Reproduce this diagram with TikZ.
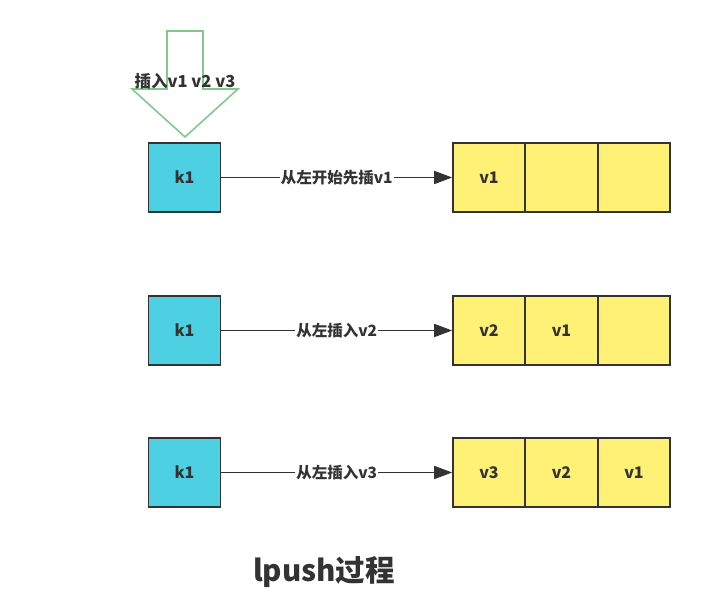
\documentclass[tikz,border=0pt]{standalone}
\usepackage{fontspec}
\setmainfont{Noto Sans CJK SC}
\usetikzlibrary{arrows.meta}

\definecolor{keycyan}{RGB}{77,208,225}
\definecolor{valyellow}{RGB}{255,241,118}
\definecolor{edgegray}{RGB}{51,51,51}
\definecolor{arrowgreen}{RGB}{130,200,140}

\tikzset{
    keybox/.style={draw=edgegray, line width=1.6pt, fill=keycyan,
        minimum width=72pt, minimum height=69pt, inner sep=0pt,
        font=\fontsize{16}{19}\selectfont\bfseries, text=edgegray},
    cellbox/.style={keybox, fill=valyellow},
    pushline/.style={draw=edgegray, line width=1.6pt,
        -{Triangle[length=18pt,width=13pt]}},
    steplabel/.style={fill=white, inner sep=1pt,
        font=\fontsize{15.5}{18}\selectfont\bfseries, text=edgegray}
}

\begin{document}
\begin{tikzpicture}[x=1pt,y=-1pt]
    \useasboundingbox (0,0) rectangle (716,616);

    % hollow insert arrow
    \draw[arrowgreen, line width=1.6pt, line join=miter]
        (167,31) -- (203,31) -- (203,89) -- (238,89) -- (185,137)
        -- (132,89) -- (167,89) -- cycle;
    \node[font=\fontsize{16.5}{19}\selectfont\bfseries, text=edgegray]
        (insert) at (185,81) {插入v1 v2 v3};

    % rows: key, value cells, arrow
    \foreach \r/\y/\lab/\va/\vb/\vc in {
            1/177.5/{从左开始先插v1}/v1//,
            2/330.5/{从左插入v2}/v2/v1/,
            3/472.5/{从左插入v3}/v3/v2/v1}
    {
        \node[keybox] (k\r) at (184.5,\y) {k1};
        \node[cellbox] (c\r1) at (489,\y) {\va};
        \node[cellbox] (c\r2) at (561.5,\y) {\vb};
        \node[cellbox] (c\r3) at (634,\y) {\vc};
        \draw[pushline] (k\r.east) -- node[steplabel] {\lab} (c\r1.west);
    }

    % title
    \node[font=\fontsize{29.5}{34}\selectfont\bfseries, text=edgegray]
        (title) at (324,572) {lpush过程};
\end{tikzpicture}
\end{document}
